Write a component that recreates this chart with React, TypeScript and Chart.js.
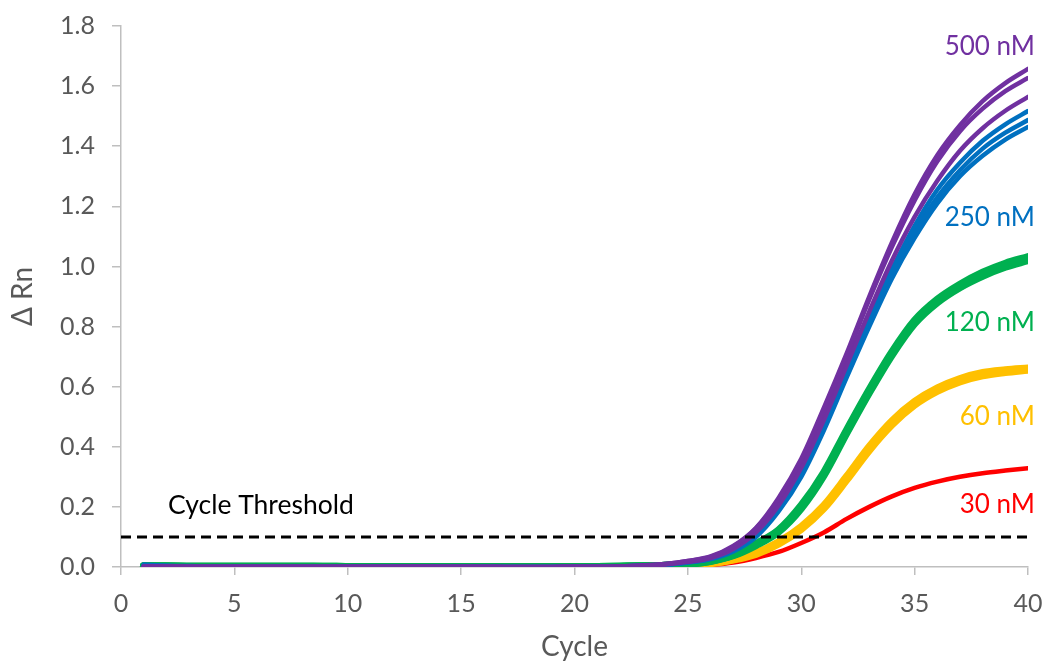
import React, { useEffect, useRef } from "react";
import { Chart, registerables } from "chart.js";

Chart.register(...registerables);

const cycles = [1, 2, 3, 4, 5, 6, 7, 8, 9, 10, 11, 12, 13, 14, 15, 16, 17, 18, 19, 20, 21, 22, 23, 24, 25, 26, 27, 28, 29, 30, 31, 32, 33, 34, 35, 36, 37, 38, 39, 40];

const purple1 = [0.002, 0.002, 0.001, 0.001, 0.001, 0.001, 0.001, 0.001, 0.001, 0.001, 0.001, 0.001, 0.002, 0.001, 0.001, 0.001, 0.0, 0.0, 0.0, 0.001, 0.001, 0.002, 0.005, 0.01, 0.02, 0.035, 0.07, 0.13, 0.23, 0.36, 0.53, 0.71, 0.9, 1.08, 1.24, 1.37, 1.47, 1.55, 1.61, 1.657];
const purple2 = [0.002, 0.002, 0.001, 0.001, 0.001, 0.001, 0.001, 0.001, 0.001, 0.001, 0.001, 0.001, 0.001, 0.001, 0.001, 0.001, 0.0, 0.0, 0.0, 0.001, 0.001, 0.002, 0.005, 0.01, 0.02, 0.034, 0.068, 0.128, 0.225, 0.355, 0.52, 0.7, 0.89, 1.065, 1.22, 1.35, 1.45, 1.525, 1.583, 1.627];
const purple3 = [0.002, 0.001, 0.001, 0.001, 0.001, 0.001, 0.001, 0.001, 0.001, 0.001, 0.001, 0.001, 0.001, 0.001, 0.001, 0.0, 0.0, 0.0, 0.0, 0.001, 0.001, 0.002, 0.004, 0.008, 0.017, 0.03, 0.06, 0.115, 0.205, 0.33, 0.49, 0.67, 0.85, 1.02, 1.165, 1.285, 1.385, 1.46, 1.518, 1.564];
const blue1 = [0.008, 0.004, 0.003, 0.002, 0.002, 0.002, 0.002, 0.001, 0.001, 0.001, 0.001, 0.001, 0.001, 0.001, 0.001, 0.001, 0.0, 0.0, 0.0, 0.001, 0.001, 0.002, 0.004, 0.008, 0.016, 0.028, 0.056, 0.108, 0.195, 0.315, 0.475, 0.65, 0.83, 0.99, 1.135, 1.255, 1.345, 1.418, 1.473, 1.517];
const blue2 = [0.006, 0.003, 0.002, 0.002, 0.002, 0.001, 0.001, 0.001, 0.001, 0.001, 0.001, 0.001, 0.001, 0.001, 0.001, 0.001, 0.0, 0.0, 0.0, 0.001, 0.001, 0.002, 0.004, 0.008, 0.015, 0.027, 0.054, 0.104, 0.19, 0.31, 0.465, 0.64, 0.815, 0.975, 1.115, 1.23, 1.32, 1.392, 1.445, 1.487];
const blue3 = [0.005, 0.003, 0.002, 0.002, 0.001, 0.001, 0.001, 0.001, 0.001, 0.001, 0.001, 0.001, 0.001, 0.001, 0.001, 0.0, 0.0, 0.0, 0.0, 0.001, 0.001, 0.002, 0.004, 0.007, 0.015, 0.026, 0.052, 0.1, 0.185, 0.3, 0.455, 0.63, 0.8, 0.96, 1.095, 1.21, 1.3, 1.368, 1.422, 1.464];
const green1 = [0.003, 0.003, 0.002, 0.002, 0.002, 0.002, 0.002, 0.002, 0.002, 0.001, 0.001, 0.001, 0.001, 0.001, 0.001, 0.001, 0.0, 0.0, 0.0, 0.0, 0.001, 0.002, 0.003, 0.005, 0.01, 0.02, 0.04, 0.075, 0.12, 0.2, 0.31, 0.45, 0.585, 0.71, 0.815, 0.885, 0.935, 0.975, 1.005, 1.028];
const green2 = [0.003, 0.002, 0.002, 0.002, 0.002, 0.002, 0.002, 0.002, 0.001, 0.001, 0.001, 0.001, 0.001, 0.001, 0.001, 0.0, 0.0, 0.0, 0.0, 0.0, 0.001, 0.002, 0.003, 0.005, 0.01, 0.019, 0.038, 0.072, 0.117, 0.195, 0.305, 0.445, 0.58, 0.705, 0.81, 0.88, 0.93, 0.968, 0.998, 1.02];
const green3 = [0.003, 0.003, 0.002, 0.002, 0.002, 0.002, 0.002, 0.002, 0.002, 0.001, 0.001, 0.001, 0.001, 0.001, 0.001, 0.001, 0.0, 0.0, 0.0, 0.0, 0.001, 0.002, 0.003, 0.005, 0.011, 0.021, 0.041, 0.077, 0.123, 0.205, 0.315, 0.455, 0.59, 0.715, 0.82, 0.89, 0.94, 0.98, 1.01, 1.032];
const yellow1 = [0.002, 0.002, 0.002, 0.001, 0.001, 0.001, 0.001, 0.001, 0.001, 0.001, 0.001, 0.001, 0.001, 0.001, 0.0, 0.0, 0.0, 0.0, 0.0, 0.0, 0.001, 0.001, 0.002, 0.003, 0.005, 0.012, 0.025, 0.045, 0.08, 0.13, 0.2, 0.295, 0.395, 0.48, 0.545, 0.59, 0.622, 0.642, 0.652, 0.659];
const yellow2 = [0.002, 0.002, 0.001, 0.001, 0.001, 0.001, 0.001, 0.001, 0.001, 0.001, 0.001, 0.001, 0.001, 0.0, 0.0, 0.0, 0.0, 0.0, 0.0, 0.0, 0.001, 0.001, 0.002, 0.003, 0.005, 0.011, 0.023, 0.042, 0.076, 0.125, 0.194, 0.288, 0.387, 0.472, 0.538, 0.584, 0.616, 0.636, 0.647, 0.655];
const yellow3 = [0.002, 0.002, 0.002, 0.001, 0.001, 0.001, 0.001, 0.001, 0.001, 0.001, 0.001, 0.001, 0.001, 0.001, 0.0, 0.0, 0.0, 0.0, 0.0, 0.0, 0.001, 0.001, 0.002, 0.003, 0.006, 0.013, 0.027, 0.048, 0.084, 0.135, 0.206, 0.302, 0.402, 0.487, 0.551, 0.596, 0.627, 0.647, 0.656, 0.662];
const red1 = [0.001, 0.001, 0.001, 0.001, 0.001, 0.001, 0.001, 0.001, 0.001, 0.001, 0.0, 0.0, 0.0, 0.0, 0.0, 0.0, 0.0, 0.0, 0.0, 0.0, 0.0, 0.001, 0.001, 0.002, 0.003, 0.007, 0.015, 0.03, 0.05, 0.08, 0.115, 0.16, 0.2, 0.235, 0.263, 0.284, 0.3, 0.312, 0.321, 0.329];

const thresholdX = [0, 40];
const thresholdY = [0.1, 0.1];

const xTicks = [0, 5, 10, 15, 20, 25, 30, 35, 40];
const yTicks = [0, 0.2, 0.4, 0.6, 0.8, 1.0, 1.2, 1.4, 1.6, 1.8];

const seriesLabels = ["500 nM", "250 nM", "120 nM", "60 nM", "30 nM", "Cycle Threshold"];
const labelX = [40, 40, 40, 40, 40, 2.07];
const labelY = [1.73, 1.164, 0.812, 0.5, 0.206, 0.206];

const PURPLE = "#7030A0";
const BLUE = "#0070C0";
const GREEN = "#00B050";
const YELLOW = "#FFC000";
const RED = "#FF0000";
const labelColors = [PURPLE, BLUE, GREEN, YELLOW, RED, "#000000"];
const FONT = "Lato";

const pts = (xs: number[], ys: number[]) => xs.map((x, i) => ({ x, y: ys[i] }));

const lineDs = (data: number[], color: string, width: number) => ({
  data: pts(cycles, data),
  borderColor: color,
  backgroundColor: color,
  borderWidth: width,
  pointRadius: 0,
  cubicInterpolationMode: "monotone" as const,
  fill: false,
  borderCapStyle: "round" as const,
  borderJoinStyle: "round" as const,
});

const textPlugin = {
  id: "curveLabels",
  afterDatasetsDraw(chart: any) {
    const { ctx, scales } = chart;
    ctx.save();
    ctx.textBaseline = "middle";
    seriesLabels.forEach((t, i) => {
      const px = scales.x.getPixelForValue(labelX[i]);
      const py = scales.y.getPixelForValue(labelY[i]);
      ctx.fillStyle = labelColors[i];
      if (i < 5) {
        ctx.font = `26px ${FONT}`;
        ctx.textAlign = "right";
        ctx.fillText(t, px + 7, py);
      } else {
        ctx.font = `26.5px ${FONT}`;
        ctx.textAlign = "left";
        ctx.fillText(t, px, py);
      }
    });
    ctx.restore();
  },
};

const zeroPad = (s: any) => {
  s.paddingTop = 0;
  s.paddingBottom = 0;
  s.paddingLeft = 0;
  s.paddingRight = 0;
};

export default function App() {
  const ref = useRef<HTMLCanvasElement>(null);
  useEffect(() => {
    if (!ref.current) return;
    const chart = new Chart(ref.current, {
      type: "line",
      data: {
        datasets: [
          {
            data: pts(thresholdX, thresholdY),
            borderColor: "#000000",
            borderWidth: 3,
            borderDash: [10, 6],
            pointRadius: 0,
            fill: false,
          },
          lineDs(purple1, PURPLE, 4.5),
          lineDs(purple2, PURPLE, 4.5),
          lineDs(purple3, PURPLE, 4.5),
          lineDs(blue1, BLUE, 4.5),
          lineDs(blue2, BLUE, 4.5),
          lineDs(blue3, BLUE, 4.5),
          lineDs(green1, GREEN, 7.5),
          lineDs(green2, GREEN, 7.5),
          lineDs(green3, GREEN, 7.5),
          lineDs(yellow1, YELLOW, 7),
          lineDs(yellow2, YELLOW, 7),
          lineDs(yellow3, YELLOW, 7),
          lineDs(red1, RED, 4.5),
        ] as any,
      },
      options: {
        animation: false,
        responsive: false,
        layout: { padding: { left: 0, right: 23, top: 26, bottom: 0 } },
        plugins: { legend: { display: false }, tooltip: { enabled: false } },
        scales: {
          x: {
            type: "linear",
            min: 0,
            max: 40,
            afterFit: (s: any) => { s.height = 101; zeroPad(s); },
            afterBuildTicks: (s: any) => { s.ticks = xTicks.map((v) => ({ value: v })); },
            ticks: { color: "#595959", font: { family: FONT, size: 25 }, padding: 14, maxRotation: 0 },
            grid: { display: true, drawOnChartArea: false, drawTicks: true, tickLength: 8, color: "#bfbfbf", lineWidth: 1.5 },
            border: { display: true, color: "#bfbfbf", width: 1.5 },
            title: { display: true, text: "Cycle", color: "#595959", font: { family: FONT, size: 28 }, padding: { top: 0, bottom: 4 } },
          },
          y: {
            type: "linear",
            min: 0,
            max: 1.8,
            afterFit: (s: any) => { s.width = 121; zeroPad(s); },
            afterBuildTicks: (s: any) => { s.ticks = yTicks.map((v) => ({ value: v })); },
            ticks: { color: "#595959", font: { family: FONT, size: 25 }, padding: 17, callback: (v: any) => Number(v).toFixed(1) },
            grid: { display: true, drawOnChartArea: false, drawTicks: true, tickLength: 9, color: "#bfbfbf", lineWidth: 1.5 },
            border: { display: true, color: "#bfbfbf", width: 1.5 },
            title: { display: true, text: "Δ Rn", color: "#595959", font: { family: FONT, size: 28 }, padding: { top: 6, bottom: 0 } },
          },
        },
      },
      plugins: [textPlugin],
    });
    return () => chart.destroy();
  }, []);
  return (
    <div style={{ position: "absolute", left: 0, top: 0, width: 1051, height: 668, background: "#fff" }}>
      <canvas ref={ref} width={1051} height={668} />
    </div>
  );
}
